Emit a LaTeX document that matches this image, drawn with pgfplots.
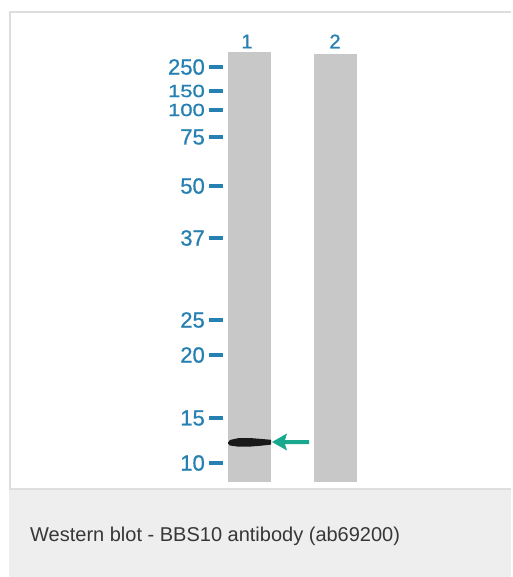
\documentclass[border=0pt]{standalone}
\usepackage{fontspec}
\setmainfont{Liberation Sans}
\newfontfamily\markfont[FakeBold=0.8]{Liberation Sans}
\usepackage{graphicx}
\usepackage{pgfplots}
\pgfplotsset{compat=1.18}
\definecolor{lanegray}{RGB}{200,200,200}
\definecolor{markblue}{RGB}{38,128,178}
\definecolor{arrowteal}{RGB}{24,168,142}
\definecolor{framegray}{RGB}{221,221,221}
\definecolor{capbg}{RGB}{237,238,237}
\definecolor{capline}{RGB}{222,222,222}
\definecolor{captext}{RGB}{55,55,55}
\begin{document}
\begin{tikzpicture}
\begin{axis}[at={(0pt,0pt)}, anchor=south west, scale only axis,
  width=511pt, height=577pt, xmin=0, xmax=511, ymin=0, ymax=577,
  y dir=reverse, hide axis, clip=false]
% background
\addplot[fill=white, draw=none] coordinates {(0,0) (511,0) (511,577) (0,577)};
\addplot[fill=capbg, draw=none] coordinates {(9,489) (511,489) (511,577) (9,577)};
\addplot[framegray, line width=2pt] coordinates {(10,489) (10,12) (511,12)};
\addplot[capline, line width=1.2pt] coordinates {(9,489) (511,489)};
% lanes
\addplot[fill=lanegray, draw=none] coordinates {(228,52) (271,52) (271,482) (228,482)};
\addplot[fill=lanegray, draw=none] coordinates {(314,54) (357,54) (357,482) (314,482)};
% band
\addplot[fill=black!90, draw=none] coordinates {(228,442.5) (230,440) (238,438.2) (250,438) (262,439) (271,439.8) (271,444.6) (262,445.6) (250,446.6) (238,446.6) (230,445.5) (228,443.5)};
% arrow
\addplot[fill=arrowteal, draw=none] coordinates {(272,442) (287,433.5) (285,440) (309,440) (309,444.2) (285,444.2) (287,450.5) (272,442)};
% lane labels
\node[font=\markfont\fontsize{20}{20}\selectfont, text=markblue] at (axis cs:247,41.5) {1};
\node[font=\markfont\fontsize{20}{20}\selectfont, text=markblue] at (axis cs:335,41.5) {2};
% caption
\node[anchor=base west, inner sep=0pt, text=captext, font=\fontsize{20}{24}\selectfont] at (axis cs:30,541) {Western blot - BBS10 antibody (ab69200)};
\end{axis}
\begin{axis}[at={(223pt,0pt)}, anchor=south west, scale only axis,
  width=288pt, height=577pt, xmin=223, xmax=511, ymin=0, ymax=577,
  y dir=reverse, axis line style={draw=none}, xtick=\empty,
  ytick={67,91,110,137,186,238,320,355,418,463},
  yticklabels={250,{\scalebox{1}[0.8]{150}},{\scalebox{1}[0.8]{100}},75,50,37,25,20,15,10},
  ytick pos=left, tick align=outside, major tick length=14pt,
  tick style={draw=markblue, line width=3.5pt},
  /pgf/number format/assume math mode=true,
  yticklabel style={font=\markfont\fontsize{22}{22}\selectfont, text=markblue, inner sep=0pt, xshift=-4pt}]
\end{axis}
\end{tikzpicture}
\end{document}
